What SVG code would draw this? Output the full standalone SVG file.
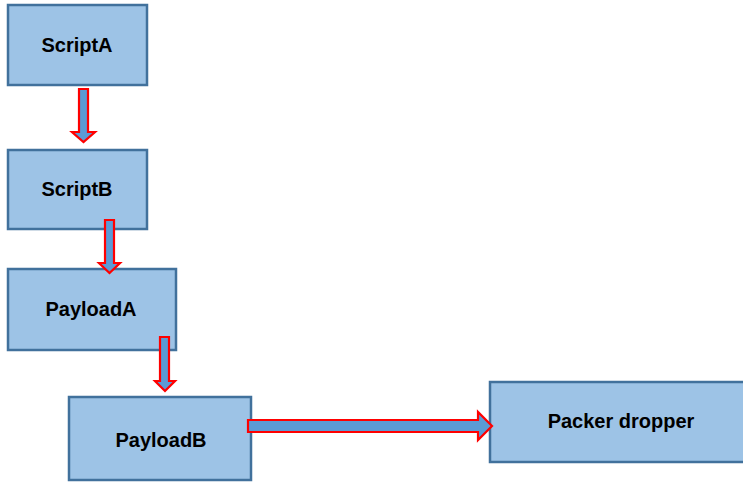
<svg xmlns="http://www.w3.org/2000/svg" width="743" height="483" viewBox="0 0 743 483">
<style>
.box{fill:#9DC3E6;stroke:#41719C;stroke-width:2.5}
.arr{fill:#5B9BD5;stroke:#FF0000;stroke-width:2.2;stroke-linejoin:miter}
.lbl{font-family:"Liberation Sans","Open Sans",Arial,sans-serif;font-weight:bold;font-size:20px;fill:#000;text-anchor:middle;dominant-baseline:central}
</style>
<rect x="0" y="0" width="743" height="483" fill="#fff"/>
<g id="ScriptA"><rect class="box" x="8" y="5" width="139" height="80"/><text class="lbl" x="77" y="45">ScriptA</text></g>
<g id="ScriptB"><rect class="box" x="8" y="150" width="139" height="79"/><text class="lbl" x="77" y="189">ScriptB</text></g>
<g id="PayloadA"><rect class="box" x="8" y="269" width="168" height="81"/><text class="lbl" x="91" y="309">PayloadA</text></g>
<g id="PayloadB"><rect class="box" x="69" y="397" width="182" height="83"/><text class="lbl" x="161" y="440">PayloadB</text></g>
<g id="PackerDropper"><rect class="box" x="490" y="382" width="260" height="80"/><text class="lbl" x="621" y="421">Packer dropper</text></g>
<g id="connectors">
<polygon class="arr" points="79,89 88,89 88,132 95,132 83.5,142 72,132 79,132"/>
<polygon class="arr" points="105,220 114,220 114,263 120,263 109.5,273 99,263 105,263"/>
<polygon class="arr" points="160,337 169,337 169,381 175,381 165,391 155,381 160,381"/>
<polygon class="arr" points="248,420 478,420 478,412 492,426 478,440 478,432 248,432"/>
</g>
</svg>
